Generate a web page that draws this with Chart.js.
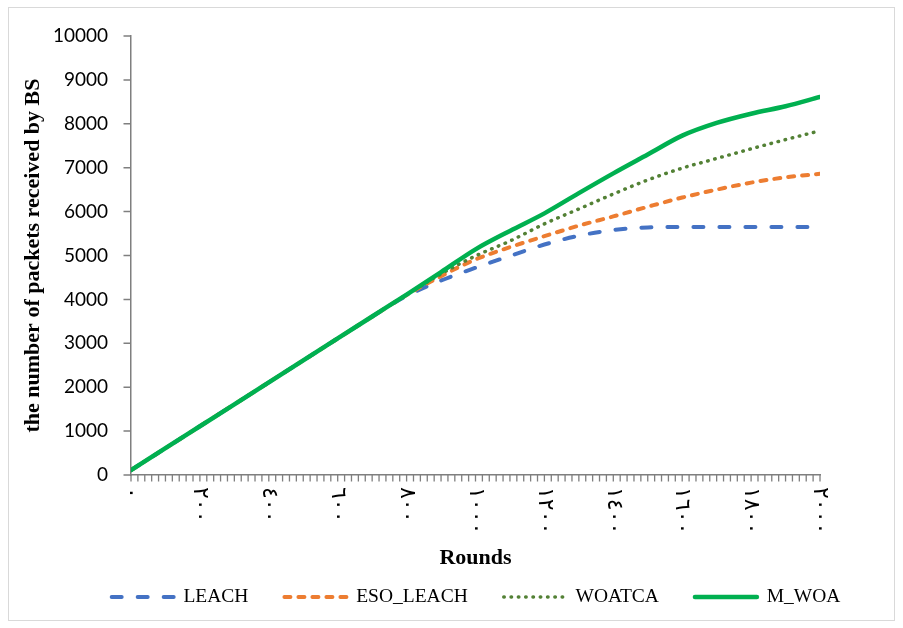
<!DOCTYPE html>
<html>
<head>
<meta charset="utf-8">
<title>Packets received by BS</title>
<script src="https://cdn.jsdelivr.net/npm/chart.js@4/dist/chart.umd.min.js"></script>
<style>
  html, body { margin: 0; padding: 0; background: #fff; }
  #wrap { width: 903px; height: 628px; }
</style>
</head>
<body>
<div id="wrap"><canvas id="c" width="903" height="628"></canvas></div>
<script>
// Rounds at which each protocol was sampled
const rounds = [0, 100, 200, 300, 400, 500, 600, 700, 800, 900, 1000,
                1100, 1200, 1300, 1400, 1500, 1600, 1700, 1800, 1900, 2000];

// Cumulative packets received by the base station
const leach    = [110, 610, 1110, 1610, 2110, 2610, 3110, 3610, 4080, 4430, 4720,
                  4990, 5250, 5450, 5580, 5640, 5650, 5650, 5650, 5650, 5650];
const esoLeach = [110, 610, 1110, 1610, 2110, 2610, 3110, 3610, 4100, 4530, 4910,
                  5190, 5440, 5680, 5890, 6110, 6320, 6500, 6660, 6780, 6860];
const woatca   = [110, 610, 1110, 1610, 2110, 2610, 3110, 3610, 4110, 4580, 4990,
                  5330, 5720, 6060, 6400, 6720, 6990, 7210, 7430, 7640, 7840];
const mWoa     = [110, 610, 1110, 1610, 2110, 2610, 3110, 3610, 4110, 4620, 5140,
                  5560, 5960, 6420, 6870, 7300, 7730, 8020, 8230, 8400, 8610];

// Labelled rounds on the horizontal axis, written in Arabic-Indic digits
const roundTicks = [0, 200, 400, 600, 800, 1000, 1200, 1400, 1600, 1800, 2000];
const roundTickLabels = ['٠', '٢٠٠', '٤٠٠', '٦٠٠', '٨٠٠', '١٠٠٠',
                         '١٢٠٠', '١٤٠٠', '١٦٠٠', '١٨٠٠', '٢٠٠٠'];

const seriesNames = ['LEACH', 'ESO_LEACH', 'WOATCA', 'M_WOA'];

const pts = arr => rounds.map((r, i) => ({ x: r, y: arr[i] }));

const AXIS_GREY = '#7f7f7f';
const SERIF = 'Liberation Serif, Times New Roman, serif';
const X_MINOR_STEP = 20;

// White background and thin chart-area frame
const framePlugin = {
  id: 'frame',
  beforeDraw(chart) {
    const ctx = chart.ctx;
    ctx.save();
    ctx.fillStyle = '#ffffff';
    ctx.fillRect(0, 0, chart.width, chart.height);
    ctx.restore();
  },
  afterDraw(chart) {
    const ctx = chart.ctx;
    ctx.save();
    ctx.setLineDash([]);
    ctx.strokeStyle = '#d9d9d9';
    ctx.lineWidth = 1;
    ctx.strokeRect(8.5, 7.5, 886, 613);
    ctx.restore();
  }
};

// Outside tick marks on both axes, positioned through the scales
const tickMarkPlugin = {
  id: 'tickMarks',
  afterDraw(chart) {
    const xs = chart.scales.x;
    const ys = chart.scales.y;
    const ctx = chart.ctx;
    ctx.save();
    ctx.setLineDash([]);
    ctx.lineCap = 'butt';
    ctx.strokeStyle = AXIS_GREY;
    ctx.lineWidth = 1.3;
    ctx.beginPath();
    for (let v = xs.min; v <= xs.max + 1e-9; v += X_MINOR_STEP) {
      const px = xs.getPixelForValue(v);
      ctx.moveTo(px, xs.top);
      ctx.lineTo(px, xs.top + 6.5);
    }
    ctx.stroke();
    ctx.lineWidth = 1.5;
    ctx.beginPath();
    for (let v = ys.min; v <= ys.max + 1e-9; v += 1000) {
      const py = ys.getPixelForValue(v);
      ctx.moveTo(ys.right - 7.5, py);
      ctx.lineTo(ys.right, py);
    }
    ctx.stroke();
    ctx.restore();
  }
};

// Round labels turned a quarter-turn clockwise, read top to bottom
const roundLabelPlugin = {
  id: 'roundLabels',
  afterDraw(chart) {
    const xs = chart.scales.x;
    const ctx = chart.ctx;
    ctx.save();
    ctx.fillStyle = '#000';
    ctx.font = '22px "DejaVu Sans"';
    ctx.textAlign = 'left';
    ctx.textBaseline = 'middle';
    roundTicks.forEach((v, i) => {
      const px = xs.getPixelForValue(v);
      ctx.save();
      ctx.translate(px, xs.top + 12);
      ctx.rotate(Math.PI / 2);
      ctx.fillText(roundTickLabels[i], 0, 0);
      ctx.restore();
    });
    ctx.restore();
  }
};

// Centre the legend row under the plot rather than the whole canvas
const legendPlacePlugin = {
  id: 'legendPlace',
  afterLayout(chart) {
    const lg = chart.legend;
    if (!lg) return;
    lg.left = 49;
    lg.right = 903;
    lg.width = lg.right - lg.left;
  }
};

const lineStyle = (color, width, dash) => ({
  borderColor: color,
  backgroundColor: color,
  borderWidth: width,
  borderDash: dash,
  borderCapStyle: 'round',
  borderJoinStyle: 'round',
  pointRadius: 0,
  pointHoverRadius: 0,
  fill: false,
  cubicInterpolationMode: 'monotone'
});

// Legend swatches keep each series' dash pattern
const legendLabels = chart => {
  const items = Chart.defaults.plugins.legend.labels.generateLabels(chart);
  return items.map(it => {
    const ds = chart.data.datasets[it.datasetIndex];
    return Object.assign(it, {
      lineDash: ds.borderDash,
      lineCap: 'round',
      lineWidth: ds.borderWidth,
      strokeStyle: ds.borderColor
    });
  });
};

new Chart(document.getElementById('c'), {
  type: 'line',
  data: {
    datasets: [
      Object.assign({ label: seriesNames[0], data: pts(leach), order: 4 },
                    lineStyle('#4472C4', 4, [10, 16])),
      Object.assign({ label: seriesNames[1], data: pts(esoLeach), order: 3 },
                    lineStyle('#ED7D31', 4, [6, 8])),
      Object.assign({ label: seriesNames[2], data: pts(woatca), order: 2 },
                    lineStyle('#538135', 3.5, [0.5, 6.8])),
      Object.assign({ label: seriesNames[3], data: pts(mWoa), order: 1 },
                    lineStyle('#00B050', 4.5, []))
    ]
  },
  options: {
    responsive: false,
    devicePixelRatio: 1,
    animation: false,
    events: [],
    layout: { padding: { left: 8, right: 83, top: 36, bottom: 11.25 } },
    plugins: {
      tooltip: { enabled: false },
      legend: {
        position: 'bottom',
        labels: {
          usePointStyle: true,
          pointStyle: 'line',
          pointStyleWidth: 62,
          boxHeight: 19.5,
          padding: 36,
          color: '#000',
          font: { family: SERIF, size: 19.5 },
          generateLabels: legendLabels,
          sort: (a, b) => a.datasetIndex - b.datasetIndex
        }
      }
    },
    scales: {
      x: {
        type: 'linear',
        min: 0,
        max: 2000,
        ticks: { stepSize: 200, display: false },
        grid: { display: false },
        border: { color: AXIS_GREY, width: 1.5 },
        title: {
          display: true,
          text: 'Rounds',
          color: '#000',
          font: { family: SERIF, size: 22, weight: 'bold' },
          padding: { top: 0, bottom: -20 }
        },
        afterFit(s) { s.height = 76.25; }
      },
      y: {
        min: 0,
        max: 10000,
        ticks: {
          stepSize: 1000,
          padding: 15,
          color: '#000',
          font: { family: 'Lato, Liberation Sans, sans-serif', size: 19 },
          callback: v => String(v)
        },
        grid: { display: false },
        border: { color: AXIS_GREY, width: 1.5 },
        title: {
          display: true,
          text: 'the number of packets received by BS',
          color: '#000',
          font: { family: SERIF, size: 22, weight: 'bold' },
          padding: { top: 12, bottom: 0 }
        },
        afterFit(s) { s.width = 123; }
      }
    }
  },
  plugins: [framePlugin, tickMarkPlugin, roundLabelPlugin, legendPlacePlugin]
});
</script>
</body>
</html>
